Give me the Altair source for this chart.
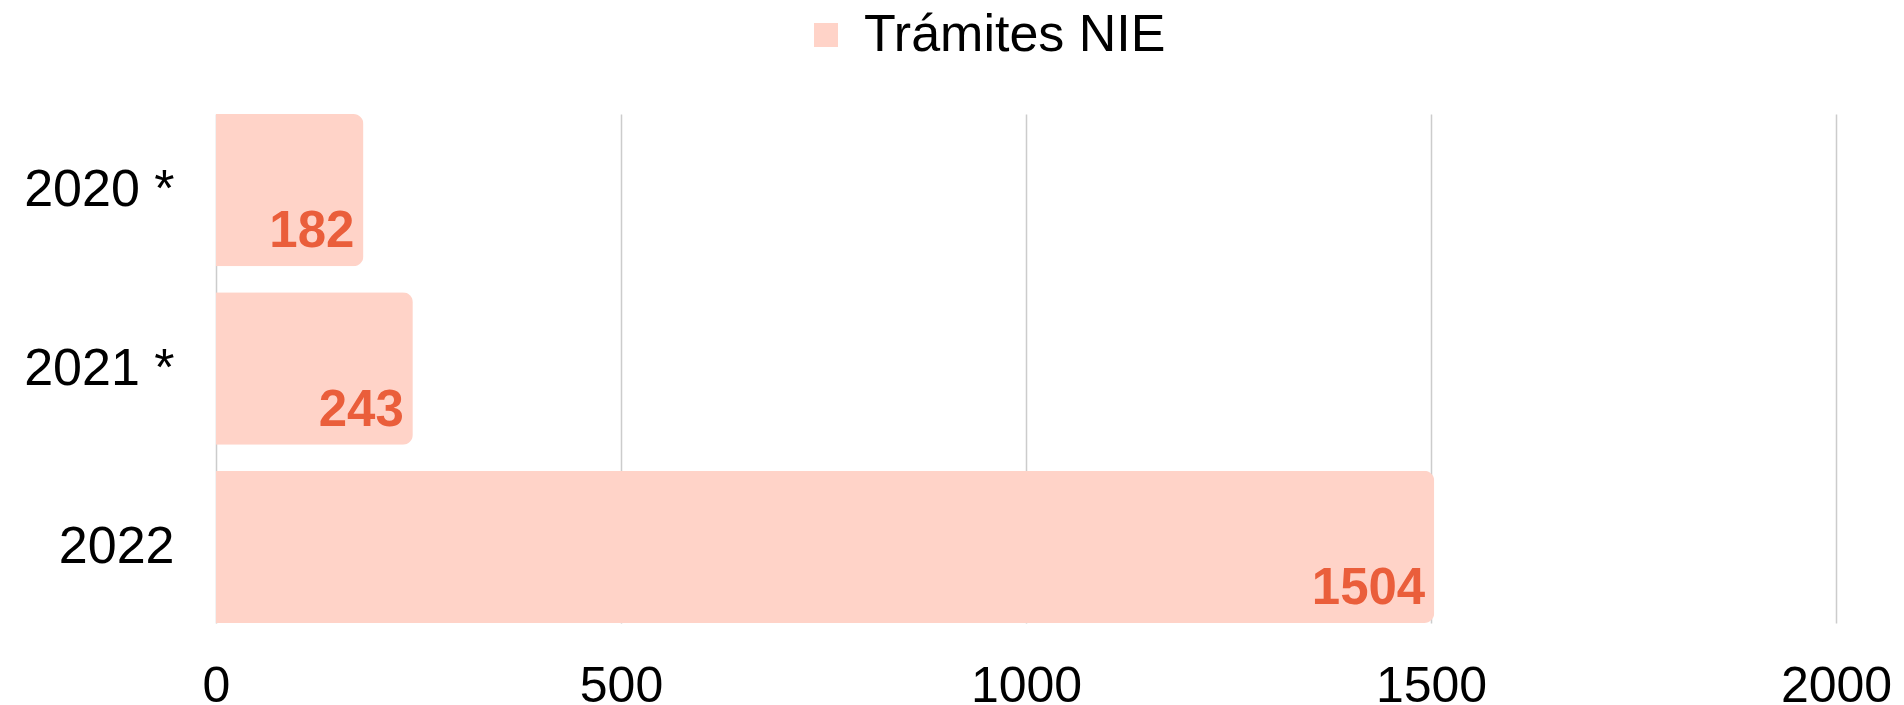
import altair as alt
import pandas as pd

years = ["2020 *", "2021 *", "2022"]
values = [182, 243, 1504]
series = ["Trámites NIE", "Trámites NIE", "Trámites NIE"]
x_ticks = [0, 500, 1000, 1500, 2000]

df = pd.DataFrame({"year": years, "value": values, "serie": series})

FONT = "Liberation Sans"
BAR = "#FFD3C8"
LABEL = "#EA5E3B"

y_enc = alt.Y("year:N", sort=years, title=None,
              scale=alt.Scale(paddingInner=0.146, paddingOuter=0),
              axis=alt.Axis(labelFontSize=52, labelColor="#000000", labelFont=FONT,
                            labelPadding=42, ticks=False, domain=False, grid=False,
                            labelAlign="right", labelLimit=400))
x_enc = alt.X("value:Q", title=None,
              scale=alt.Scale(domain=[0, 2000], nice=False),
              axis=alt.Axis(values=x_ticks, format="d", labelFontSize=50,
                            labelColor="#000000", labelFont=FONT, labelPadding=38,
                            ticks=False, domain=False, grid=True, gridColor="#cccccc",
                            gridWidth=1.5, labelFlush=False))

bars = alt.Chart(df).mark_bar(cornerRadiusEnd=10).encode(
    y=y_enc,
    x=x_enc,
    color=alt.Color("serie:N", scale=alt.Scale(range=[BAR]),
                    legend=alt.Legend(title=None, orient="none", legendX=584, legendY=-105,
                                      symbolType="square", symbolSize=576,
                                      symbolStrokeWidth=0, labelFontSize=52,
                                      labelFont=FONT, labelColor="#000000",
                                      labelOffset=12, padding=0, labelLimit=800)),
)

texts = alt.Chart(df).mark_text(align="right", baseline="alphabetic", dx=-9, dy=57,
                                fontSize=51, fontWeight="bold", font=FONT,
                                color=LABEL).encode(
    y=alt.Y("year:N", sort=years),
    x=alt.X("value:Q"),
    text=alt.Text("value:Q"),
)

chart = alt.layer(bars, texts).properties(
    width=1620, height=509,
    autosize=alt.AutoSizeParams(type="none"),
    padding={"left": 208, "top": 106, "right": 60, "bottom": 82},
).configure_view(stroke=None)

chart.save("out.html", embed_options={"renderer": "svg", "actions": False})
